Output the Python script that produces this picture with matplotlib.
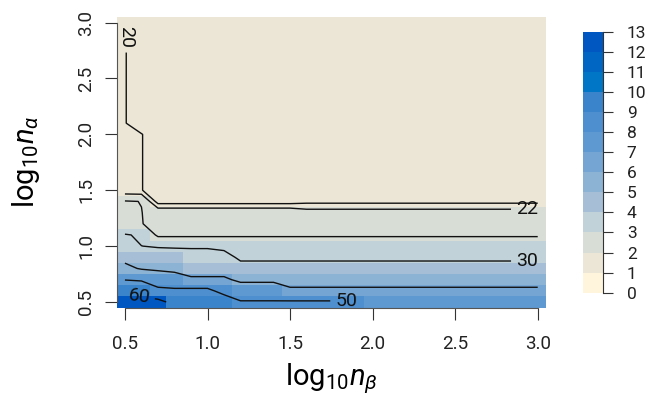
import numpy as np
import matplotlib
matplotlib.use("Agg")
import matplotlib.pyplot as plt
from matplotlib.colors import ListedColormap, BoundaryNorm

plt.rcParams['font.family'] = ['Roboto', 'DejaVu Sans']
plt.rcParams['mathtext.fontset'] = 'custom'
plt.rcParams['mathtext.rm'] = 'Roboto'
plt.rcParams['mathtext.it'] = 'Roboto:italic'
plt.rcParams['mathtext.bf'] = 'Roboto:bold'

# ---- grid: log10 n_beta (x) and log10 n_alpha (y) ----
log_nb = np.linspace(0.5, 3.0, 26)
log_na = np.linspace(0.5, 3.0, 26)

# ---- colour field (bin index 0..12), one profile per column group, rows from y=0.5 up ----
lev_profiles = {
    'a': [12, 9, 7, 5, 4, 3, 3, 2, 2, 2] + [1] * 16,
    'b': [12, 8, 7, 5, 4, 3, 2, 2, 2, 1] + [1] * 16,
    'c': [9, 8, 7, 5, 4, 3, 2, 2, 2, 1] + [1] * 16,
    'd': [9, 8, 6, 4, 3, 3, 2, 2, 2, 1] + [1] * 16,
    'e': [8, 7, 5, 4, 3, 3, 2, 2, 2, 1] + [1] * 16,
    'f': [8, 6, 5, 4, 3, 3, 2, 2, 2, 1] + [1] * 16,
    'g': [7, 6, 5, 4, 3, 3, 2, 2, 2, 1] + [1] * 16,
}
lev_cols = ['a', 'a', 'b', 'c', 'd', 'd', 'd', 'e', 'e', 'e',
            'f', 'f', 'f', 'f', 'f'] + ['g'] * 11

# ---- contoured quantity, same layout ----
w_profiles = {
    'c05': [67.4, 56.0, 49.8, 42.0, 37.8, 33.0, 30.3, 26.0, 25.6, 25.2] + [20.4] * 16,
    'c06': [65.2, 53.7, 49.5, 39.3, 34.0, 30.02, 29.5, 25.1, 25.05, 24.95] + [20.35] * 6 + [15.3] * 10,
    'c07': [63.0, 50.94, 48.0, 38.0, 31.3, 29.8, 24.15, 24.1, 24.0, 19.0] + [15.35] * 16,
    'c08': [57.0, 51.13, 46.0, 36.9, 30.9, 29.8, 24.15, 24.1, 24.0, 19.0] + [15.35] * 16,
    'c09': [56.0, 52.1, 42.5, 33.24, 30.7, 29.8, 24.15, 24.1, 24.0, 19.0] + [15.35] * 16,
    'c11': [55.57, 47.0, 42.5, 33.24, 30.3, 29.8, 24.15, 24.1, 24.0, 19.0] + [15.35] * 16,
    'c12': [50.06, 49.5, 37.0, 30.3, 29.85, 29.8, 24.15, 24.1, 24.0, 19.0] + [15.35] * 16,
    'c15': [50.96, 41.4, 37.0, 30.3, 29.85, 29.8, 24.15, 24.1, 24.0, 19.0] + [15.35] * 16,
    'c16': [50.96, 41.4, 37.0, 30.3, 29.85, 29.8, 24.15, 24.1, 23.11, 19.41] + [15.35] * 16,
    'c20': [48.0, 41.4, 37.0, 30.3, 29.85, 29.8, 24.15, 24.1, 23.11, 19.41] + [15.35] * 16,
}
w_cols = ['c05', 'c06', 'c07', 'c08', 'c09', 'c09', 'c11', 'c12', 'c12', 'c12',
          'c15', 'c16', 'c16', 'c16', 'c16'] + ['c20'] * 11

contour_levels = [20, 22, 25, 30, 40, 50, 60]
# labels only where these spots sit (20, 22, 30, 50, 60)
label_spots = [(0.508, 2.875), (2.935, 1.33), (2.935, 0.867), (1.84, 0.51), (0.585, 0.548)]

key_breaks = list(range(0, 14))
key_colors = ['#fff5dd', '#ebe6d5', '#d8ddd6', '#c1d3d9', '#a6bfd6', '#8cb2d4', '#75a5d2',
              '#5e99d1', '#4e8fcf', '#3a84cb', '#0076c6', '#0066c4', '#0057c1']

Z = np.column_stack([lev_profiles[g] for g in lev_cols])
W = np.column_stack([w_profiles[g] for g in w_cols])

cmap = ListedColormap(key_colors)
norm = BoundaryNorm(key_breaks, cmap.N)

fig = plt.figure(figsize=(6.53, 3.99), dpi=100)
ax = fig.add_axes([0.1787, 0.2291, 0.6574, 0.7283])

dx = log_nb[1] - log_nb[0]
x_edges = np.append(log_nb - dx / 2, log_nb[-1] + dx / 2)
y_edges = np.append(log_na - dx / 2, log_na[-1] + dx / 2)
ax.pcolormesh(x_edges, y_edges, Z + 0.5, cmap=cmap, norm=norm, shading='flat')

cs = ax.contour(log_nb, log_na, W, levels=contour_levels, colors='#111111', linewidths=1.0)
labs = ax.clabel(cs, manual=label_spots, fmt='%d',
                 fontsize=14, inline=True, inline_spacing=5, colors='#111111')

ax.set_xlim(x_edges[0], x_edges[-1])
ax.set_ylim(y_edges[0], y_edges[-1])
ticks = [0.5, 1.0, 1.5, 2.0, 2.5, 3.0]
ax.set_xticks(ticks)
ax.set_yticks(ticks)
ax.set_xticklabels([f'{t:.1f}' for t in ticks])
ax.set_yticklabels([f'{t:.1f}' for t in ticks], rotation=90, va='center')
for s in ['top', 'right']:
    ax.spines[s].set_visible(False)
for s in ['left', 'bottom']:
    ax.spines[s].set_bounds(0.5, 3.0)
    ax.spines[s].set_color('#555555')
    ax.spines[s].set_linewidth(0.8)
ax.tick_params(axis='both', length=8.5, width=0.8, color='#333333', labelsize=13.5,
               labelcolor='#222222')
ax.tick_params(axis='x', pad=11)
ax.tick_params(axis='y', pad=7)

ax.set_xlabel(r'$\mathrm{log}_{10}n_{\beta}$', fontsize=21)
ax.xaxis.set_label_coords(0.5, -0.185)
ax.set_ylabel(r'$\mathrm{log}_{10}n_{\alpha}$', fontsize=21)
ax.yaxis.set_label_coords(-0.175, 0.5)

# colour key
cax = fig.add_axes([0.8923, 0.2664, 0.0315, 0.6541])
cax.pcolormesh([0, 1], key_breaks, np.array(key_breaks[:-1])[:, None] + 0.5,
               cmap=cmap, norm=norm, shading='flat')
cax.set_xlim(0, 1)
cax.set_ylim(0, 13)
cax.set_xticks([])
cax.yaxis.tick_right()
cax.set_yticks(key_breaks)
for s in ['top', 'left', 'bottom']:
    cax.spines[s].set_visible(False)
cax.spines['right'].set_color('#333333')
cax.spines['right'].set_linewidth(0.8)
cax.tick_params(axis='y', length=7, width=0.8, color='#333333', labelsize=12.5,
                labelcolor='#222222', pad=10)

fig.savefig('out.png', dpi=100)
